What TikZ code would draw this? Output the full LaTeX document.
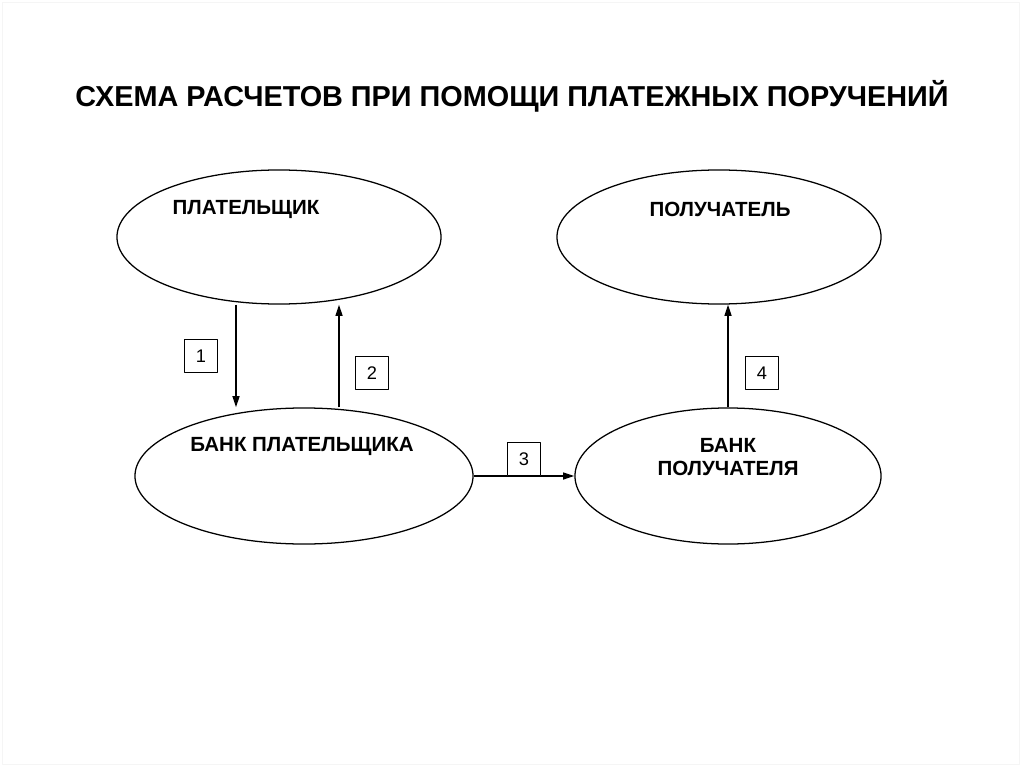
\documentclass[tikz,border=0pt]{standalone}
\usepackage{fontspec}
\setmainfont{Liberation Sans}
\usetikzlibrary{shapes.geometric,arrows.meta}
\tikzset{
  oval/.style={draw, ellipse, line width=0.9pt, inner sep=0pt},
  numbox/.style={draw, line width=0.6pt, fill=white, inner sep=0pt,
    minimum width=0.84cm, minimum height=0.84cm, font=\fontsize{13}{15}\selectfont},
  lbl/.style={font=\bfseries\fontsize{14.6}{15.8}\selectfont, align=center},
}
\begin{document}
\begin{tikzpicture}[x=0.025cm, y=-0.025cm, >={Triangle[length=8pt,width=5pt]}, line join=round]
\useasboundingbox (0,0) rectangle (1024,767);
\draw[black!4] (2,2) rectangle (1019,764);
% Заголовок
\node[font=\bfseries\fontsize{20.5}{24}\selectfont] (title) at (512,96) {СХЕМА РАСЧЕТОВ ПРИ ПОМОЩИ ПЛАТЕЖНЫХ ПОРУЧЕНИЙ};
% Участники
\node[oval, minimum width=8.1cm, minimum height=3.35cm] (plat) at (279,237) {};
\node[oval, minimum width=8.1cm, minimum height=3.35cm] (pol) at (719,237) {};
\node[oval, minimum width=8.45cm, minimum height=3.4cm] (bplat) at (304,476) {};
\node[oval, minimum width=7.65cm, minimum height=3.4cm] (bpol) at (728,476) {};
\node[lbl] (tplat) at (246,209) {ПЛАТЕЛЬЩИК};
\node[lbl] (tpol) at (720,209) {ПОЛУЧАТЕЛЬ};
\node[lbl] (tbplat) at (302,446) {БАНК ПЛАТЕЛЬЩИКА};
\node[lbl] (tbpol) at (728,457) {БАНК\\ПОЛУЧАТЕЛЯ};
% Стрелки
\coordinate (x1) at (236,0);
\coordinate (x2) at (339,0);
\draw[->, line width=1pt] (plat.south -| x1) -- (bplat.north -| x1);
\draw[->, line width=1pt] (bplat.north -| x2) -- (plat.south -| x2);
\draw[->, line width=1pt] (bplat.east) -- (bpol.west);
\draw[->, line width=1pt] (bpol.north) -- (pol.south -| bpol.north);
% Номера
\node[numbox] (n1) at (201,356) {1};
\node[numbox] (n2) at (372,373) {2};
\node[numbox] (n3) at (524,459) {3};
\node[numbox] (n4) at (762,373) {4};
\end{tikzpicture}
\end{document}
